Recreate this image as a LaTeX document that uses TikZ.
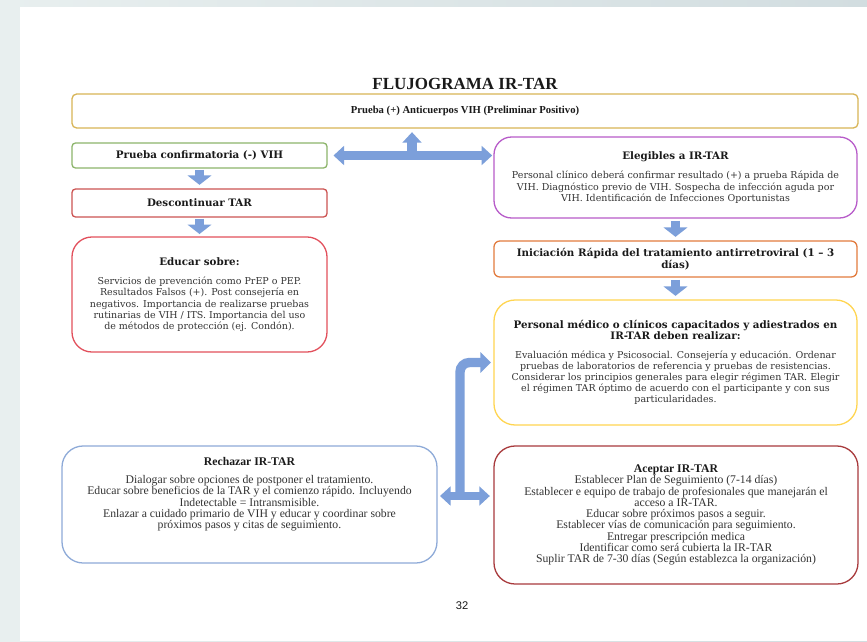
\documentclass[tikz,border=0pt]{standalone}
\usepackage{fontspec}
\setmainfont{DejaVu Serif}
\newfontfamily\timesfam{Liberation Serif}
\newfontfamily\sansfam{Liberation Sans}
\usetikzlibrary{arrows.meta}

\definecolor{bgleft}{HTML}{E8EFEF}
\definecolor{bgright}{HTML}{D2DDE0}
\definecolor{goldline}{HTML}{D8B456}
\definecolor{greenline}{HTML}{8DB56B}
\definecolor{redline}{HTML}{CC5452}
\definecolor{pinkline}{HTML}{E2505C}
\definecolor{purpleline}{HTML}{B75BC9}
\definecolor{orangeline}{HTML}{E27B3E}
\definecolor{yellowline}{HTML}{FFD550}
\definecolor{blueline}{HTML}{8EAAD8}
\definecolor{darkredline}{HTML}{A83A3C}
\definecolor{arrowblue}{HTML}{7C9FDA}
\definecolor{headgray}{HTML}{1A1A1A}
\definecolor{bodygray}{HTML}{333333}

\newdimen\pxu \pxu=0.03cm

\newcommand{\titlesize}{\timesfam\bfseries\fontsize{14.5}{16}\selectfont}
\newcommand{\topsize}{\timesfam\bfseries\fontsize{9.1}{10}\selectfont}
\newcommand{\headsize}{\bfseries\fontsize{8.8}{10}\selectfont}
\newcommand{\bodysize}{\fontsize{8.1}{9.5}\selectfont}
\newcommand{\theadsize}{\timesfam\bfseries\fontsize{10}{10}\selectfont}
\newcommand{\tbodysize}{\timesfam\fontsize{10}{9.6}\selectfont}

\begin{document}
\begin{tikzpicture}[x=0.03cm, y=-0.03cm,
    box/.style={draw, line width=1.1pt, rounded corners=#1, align=center, inner sep=0pt, text=bodygray},
    box/.default=4pt,
    fat/.style={draw=arrowblue, line width=8pt, -{Triangle[width=20pt, length=8pt]}},
    fatboth/.style={draw=arrowblue, line width=7.5pt, {Triangle[width=16pt, length=9pt]}-{Triangle[width=16pt, length=9pt]}},
  ]
  % page
  \fill[left color=bgleft, right color=bgright] (0,0) rectangle (867,641);
  \fill[white] (20,7) rectangle (867,641);
  \useasboundingbox (0,0) rectangle (867,641);

  \node[font=\titlesize, text=headgray] (title) at (465,84) {FLUJOGRAMA IR-TAR};
  \node[box, draw=goldline, minimum width=786\pxu, minimum height=34\pxu, font=\topsize, text=headgray] (prueba) at (465,111) {Prueba (+) Anticuerpos VIH (Preliminar Positivo)};

  % left column
  \node[box=3pt, draw=greenline, minimum width=255\pxu, minimum height=25\pxu, font=\headsize, text=headgray] (confirma) at (199.5,155.5) {Prueba confirmatoria (-) VIH};
  \node[box=3pt, draw=redline, minimum width=255\pxu, minimum height=28\pxu, font=\headsize, text=headgray] (descont) at (199.5,203) {Descontinuar TAR};
  \node[box=17pt, draw=pinkline, minimum width=255\pxu, minimum height=115\pxu, font=\bodysize] (educar) at (199.5,294.5)
    {{\headsize\color{headgray}Educar sobre:}\\[7pt]
     Servicios de prevención como PrEP o PEP.\\
     Resultados Falsos (+). Post consejería en\\
     negativos. Importancia de realizarse pruebas\\
     rutinarias de VIH / ITS. Importancia del uso\\
     de métodos de protección (ej. Condón).};

  % right column
  \node[box=15pt, draw=purpleline, minimum width=363\pxu, minimum height=81\pxu, font=\bodysize] (elegibles) at (675.5,177.5)
    {{\headsize\color{headgray}Elegibles a IR-TAR}\\[7pt]
     Personal clínico deberá confirmar resultado (+) a prueba Rápida de\\
     VIH. Diagnóstico previo de VIH. Sospecha de infección aguda por\\
     VIH. Identificación de Infecciones Oportunistas};
  \node[box=5pt, draw=orangeline, minimum width=363\pxu, minimum height=36\pxu, font=\headsize, text=headgray] (inicia) at (675.5,259)
    {Iniciación Rápida del tratamiento antirretroviral (1 -- 3\\ días)};
  \node[box=18pt, draw=yellowline, minimum width=363\pxu, minimum height=125\pxu, font=\bodysize] (personal) at (675.5,362.5)
    {{\headsize\color{headgray}Personal médico o clínicos capacitados y adiestrados en}\\
     {\headsize\color{headgray}IR-TAR deben realizar:}\\[6pt]
     Evaluación médica y Psicosocial. Consejería y educación. Ordenar\\
     pruebas de laboratorios de referencia y pruebas de resistencias.\\
     Considerar los principios generales para elegir régimen TAR. Elegir\\
     el régimen TAR óptimo de acuerdo con el participante y con sus\\
     particularidades.};

  % bottom
  \node[box=18pt, draw=blueline, minimum width=375\pxu, minimum height=117\pxu] (rechazar) at (249.5,504.5) {};
  \node[anchor=north, align=center, inner sep=0pt, text=bodygray, font=\tbodysize] (rechtext) at (249.5,457)
    {{\theadsize\color{headgray}Rechazar IR-TAR}\\[6pt]
     Dialogar sobre opciones de postponer el tratamiento.\\
     Educar sobre beneficios de la TAR y el comienzo rápido. Incluyendo\\
     Indetectable = Intransmisible.\\
     Enlazar a cuidado primario de VIH y educar y coordinar sobre\\
     próximos pasos y citas de seguimiento.};
  \node[box=18pt, draw=darkredline, minimum width=364\pxu, minimum height=138\pxu, font=\tbodysize] (aceptar) at (676,515)
    {{\theadsize\color{headgray}Aceptar IR-TAR}\\
     Establecer Plan de Seguimiento (7-14 días)\\
     Establecer e equipo de trabajo de profesionales que manejarán el\\
     acceso a IR-TAR.\\
     Educar sobre próximos pasos a seguir.\\
     Establecer vías de comunicación para seguimiento.\\
     Entregar prescripción medica\\
     Identificar como será cubierta la IR-TAR\\
     Suplir TAR de 7-30 días (Según establezca la organización)};

  \node[font=\sansfam\fontsize{9.5}{10}\selectfont, text=headgray] (pagina) at (462,606) {32};

  % arrows
  \coordinate (tjoin) at (412,155);
  \coordinate (bjoin) at (460,496);
  \draw[fatboth, shorten <=5pt, shorten >=1pt] (confirma.east) -- (confirma.east -| elegibles.west);
  \draw[fat, -{Triangle[width=16pt, length=9pt]}, shorten >=3pt] (tjoin) -- (tjoin |- prueba.south);
  \draw[fat, shorten <=1pt, shorten >=3pt] (confirma) -- (descont);
  \draw[fat, shorten <=1pt, shorten >=2pt] (descont) -- (educar);
  \draw[fat, shorten <=2pt, shorten >=3pt] (elegibles) -- (inicia);
  \draw[fat, shorten <=2pt, shorten >=3pt] (inicia) -- (personal);
  \draw[fatboth, shorten <=2pt, shorten >=3pt] (bjoin -| rechazar.east) -- (bjoin -| aceptar.west);
  \draw[fat, rounded corners=8pt, -{Triangle[width=17pt, length=9pt]}, shorten >=2pt] (bjoin) |- (personal.west);
\end{tikzpicture}
\end{document}
